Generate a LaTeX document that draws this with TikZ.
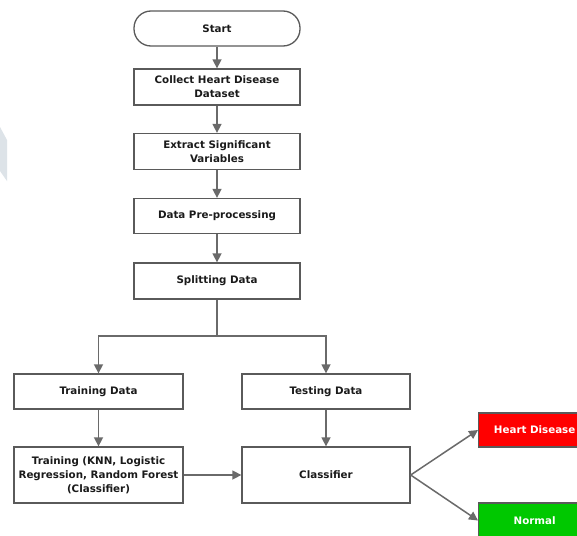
\documentclass[tikz,border=0pt]{standalone}
\usepackage{fontspec}
\setmainfont{DejaVu Sans}
\usetikzlibrary{arrows.meta,positioning}
\definecolor{edgegray}{HTML}{6A6A6A}
\definecolor{boxgray}{HTML}{5A5A5A}
\definecolor{txt}{HTML}{1A1A1A}
\definecolor{hdred}{HTML}{FF0000}
\definecolor{okgreen}{HTML}{00C800}
\definecolor{wm}{HTML}{DDE3E8}
\tikzset{
  stepbox/.style={draw=boxgray, line width=1.3pt, fill=white, inner sep=0pt,
    align=center, text=txt, font=\fontsize{10.3}{14}\selectfont\bfseries},
  wide/.style={minimum width=166pt},
  conn/.style={draw=edgegray, line width=1.5pt, -{Triangle[length=9pt,width=9pt]}},
  plain/.style={draw=edgegray, line width=1.5pt},
}
\begin{document}
\begin{tikzpicture}[x=1pt,y=-1pt]
\useasboundingbox (0,0) rectangle (577,535);
\fill[white] (0,0) rectangle (577,535);
\fill[wm] (0,127) -- (7,140) -- (7,181) -- (0,171) -- cycle;

\node[stepbox, wide, minimum height=35pt, rounded corners=17pt] (start) at (217,28.5) {Start};
\node[stepbox, wide, minimum height=36pt] (collect) at (217,87) {Collect Heart Disease\\Dataset};
\node[stepbox, wide, minimum height=36pt] (extract) at (217,151.5) {Extract Significant\\Variables};
\node[stepbox, wide, minimum height=35pt] (prep) at (217,216) {Data Pre-processing};
\node[stepbox, wide, minimum height=36pt] (split) at (217,281) {Splitting Data};

\node[stepbox, minimum width=169pt, minimum height=35pt] (trdata) at (98.5,391.5) {Training Data};
\node[stepbox, minimum width=168pt, minimum height=35pt] (tedata) at (326,391.5) {Testing Data};
\node[stepbox, minimum width=169pt, minimum height=56pt] (train) at (98.5,475) {Training (KNN, Logistic\\Regression, Random Forest\\(Classifier)};
\node[stepbox, minimum width=168pt, minimum height=56pt] (classif) at (326,475) {Classifier};

\node[stepbox, fill=hdred, text=white, minimum width=112pt, minimum height=34pt, anchor=west] (hd) at (478,430) {Heart Disease};
\node[stepbox, fill=okgreen, text=white, minimum width=112pt, minimum height=35pt, anchor=west] (normal) at (478,520.5) {Normal};

\coordinate (fork) at (217,336);

\draw[conn] (start) -- (collect);
\draw[conn] (collect) -- (extract);
\draw[conn] (extract) -- (prep);
\draw[conn] (prep) -- (split);
\draw[plain] (split.south) -- (fork);
\draw[conn] (fork) -| (trdata.north);
\draw[conn] (fork) -| (tedata.north);
\draw[conn] (trdata) -- (train);
\draw[conn] (tedata) -- (classif);
\draw[conn] (train) -- (classif);
\draw[conn] (classif.east) -- (hd.west);
\draw[conn] (classif.east) -- (normal.west);
\end{tikzpicture}
\end{document}
